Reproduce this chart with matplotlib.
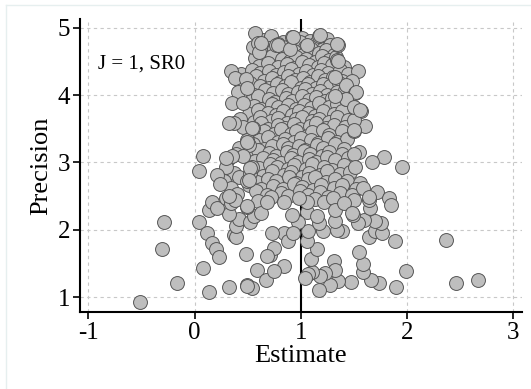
import numpy as np
import matplotlib
matplotlib.use('Agg')
import matplotlib.pyplot as plt
from matplotlib.lines import Line2D

# Outlying / sparse points (estimate, precision)
sparse_est = [-0.51, -0.17, -0.31, -0.29, 0.04, 0.08, 0.14, 0.32, 0.49, 0.54,
              0.48, 0.59, 0.67, 0.12, 0.16, 0.20, 0.23, 0.37, 0.39, 0.39,
              0.42, 0.52, 0.56, 0.32, 0.14, 0.16, 0.21, 0.30, 0.34, 0.38,
              0.49, 0.63, 2.37, 2.46, 2.67, 1.99, 1.90, 1.89, 1.74, 1.66,
              1.59, 1.59, 1.55, 1.47, 1.35, 1.28, 1.17, 1.31, 1.32, 1.23,
              1.18, 1.11, 1.07, 1.04, 1.10, 1.15, 1.06, 1.07, 1.06, 0.97,
              0.92, 0.84, 0.75, 0.71, 0.75, 0.84, 0.88, 0.93, 0.73, 1.64,
              1.70, 1.77, 1.76, 1.70, 1.60, 1.54, 1.49, 1.39, 1.34, 1.32,
              1.21, 1.17, 1.15, 1.32, 1.41, 1.48, 1.65, 1.64, 1.83, 1.85,
              1.06, 0.98, 1.95, 1.78, 1.67, 1.61, 1.54, 1.48, 1.43, 1.51,
              1.51, 1.57, 1.50, 1.50, 1.50, 1.51, 1.35, 1.34, 1.32, 1.17,
              0.92, 0.77, 0.57, 0.55, 0.60, 0.61, 0.34, 0.38, 0.48, 0.49,
              0.35, 0.46, 0.37, 0.55, 0.49, 0.51, 0.08, 0.04, 0.31, 0.30,
              0.39, 0.46, 0.21, 0.24, 0.49, 0.52, 0.54, 0.54, 0.49, 0.35,
              0.52, 0.51, 0.32, 0.49, 0.68, 1.59, 1.64, 1.50, 0.32, 0.30,
              0.68, 0.49, 0.63, 0.79, 0.90, 0.93, 1.06, 1.18, 1.34, 1.35,
              1.43, 1.52, 1.43, 1.50, 1.56, 1.32]
sparse_prec = [0.93, 1.21, 1.72, 2.12, 2.12, 1.43, 1.08, 1.15, 1.18, 1.13,
               1.64, 1.40, 1.26, 1.96, 1.81, 1.71, 1.60, 1.93, 1.90, 2.06,
               2.16, 2.11, 2.20, 2.24, 2.29, 2.41, 2.32, 2.47, 2.40, 2.45,
               2.34, 2.25, 1.85, 1.21, 1.25, 1.39, 1.15, 1.83, 1.21, 1.26,
               1.38, 1.50, 1.67, 1.22, 1.24, 1.18, 1.10, 1.53, 1.40, 1.36,
               1.31, 1.38, 1.34, 1.28, 1.56, 1.72, 1.83, 1.98, 2.27, 2.11,
               2.22, 1.46, 1.39, 1.63, 1.73, 1.96, 1.83, 1.95, 1.95, 1.89,
               1.98, 1.95, 2.10, 2.13, 2.15, 2.10, 2.22, 1.98, 2.00, 2.13,
               1.98, 2.10, 2.20, 2.30, 2.40, 2.25, 2.32, 2.45, 2.47, 2.37,
               2.42, 2.47, 2.93, 3.08, 3.00, 3.54, 4.36, 4.21, 4.15, 4.03,
               3.81, 3.76, 3.63, 3.46, 3.13, 2.94, 4.75, 4.52, 4.27, 4.88,
               4.86, 4.75, 4.92, 4.72, 4.78, 4.64, 4.36, 4.25, 4.24, 4.10,
               3.88, 3.88, 3.58, 3.51, 3.34, 3.26, 3.10, 2.88, 3.05, 2.94,
               3.12, 3.09, 2.81, 2.68, 2.72, 2.84, 2.94, 3.51, 3.31, 3.09,
               2.92, 2.74, 2.50, 2.35, 2.42, 2.62, 2.48, 3.48, 3.58, 3.07,
               1.61, 1.17, 4.78, 4.74, 4.69, 4.87, 4.74, 4.89, 4.76, 4.51,
               3.94, 4.04, 3.94, 3.82, 3.78, 3.98]

# Dense core of the funnel (estimate, precision), read row by row
core_est = [0.64, 0.72, 0.83, 1.01, 1.09, 1.25,
            0.70, 0.79, 0.87, 0.99, 1.04, 1.14, 1.21, 1.28,
            0.66, 0.75, 0.86, 0.94, 1.02, 1.10, 1.17, 1.24, 1.31,
            0.57, 0.67, 0.73, 0.82, 0.90, 0.96, 1.05, 1.13, 1.20, 1.27, 1.33,
            0.61, 0.69, 0.79, 0.87, 0.94, 1.01, 1.08, 1.16, 1.22, 1.29, 1.41,
            0.44, 0.54, 0.62, 0.70, 0.77, 0.84, 0.91, 0.98, 1.05, 1.12, 1.19, 1.26, 1.37, 1.45,
            0.42, 0.58, 0.65, 0.73, 0.80, 0.88, 0.95, 1.02, 1.09, 1.16, 1.23, 1.30, 1.39,
            0.45, 0.52, 0.62, 0.70, 0.78, 0.85, 0.91, 1.00, 1.07, 1.14, 1.21, 1.28, 1.36,
            0.41, 0.56, 0.66, 0.74, 0.82, 0.88, 0.97, 1.04, 1.11, 1.18, 1.25, 1.34, 1.42,
            0.53, 0.60, 0.70, 0.76, 0.86, 0.92, 1.01, 1.08, 1.14, 1.23, 1.29, 1.39,
            0.56, 0.63, 0.73, 0.79, 0.88, 0.96, 1.03, 1.10, 1.17, 1.27, 1.34, 1.45,
            0.51, 0.60, 0.69, 0.77, 0.83, 0.92, 0.98, 1.07, 1.13, 1.21, 1.31, 1.39,
            0.43, 0.56, 0.62, 0.72, 0.79, 0.87, 0.96, 1.01, 1.11, 1.17, 1.27, 1.34, 1.45,
            0.46, 0.63, 0.69, 0.79, 0.85, 0.94, 0.99, 1.09, 1.14, 1.24, 1.31, 1.42,
            0.59, 0.65, 0.75, 0.81, 0.91, 0.96, 1.06, 1.11, 1.21, 1.27, 1.39,
            0.61, 0.69, 0.79, 0.85, 0.94, 1.00, 1.10, 1.16, 1.26, 1.34, 1.44,
            0.42, 0.55, 0.65, 0.73, 0.83, 0.88, 0.98, 1.04, 1.15, 1.21, 1.32, 1.41,
            0.53, 0.60, 0.70, 0.77, 0.87, 0.93, 1.03, 1.09, 1.20, 1.27, 1.39, 1.55,
            0.57, 0.64, 0.74, 0.81, 0.91, 0.97, 1.08, 1.14, 1.25, 1.32, 1.45,
            0.61, 0.71, 0.78, 0.88, 0.94, 1.05, 1.11, 1.22, 1.29, 1.41,
            0.37, 0.64, 0.73, 0.84, 0.91, 1.01, 1.08, 1.18, 1.25, 1.37, 1.46,
            0.28, 0.42, 0.59, 0.69, 0.77, 0.89, 0.96, 1.07, 1.13, 1.24, 1.32, 1.44, 1.56,
            0.34, 0.51, 0.63, 0.74, 0.83, 0.94, 1.01, 1.12, 1.19, 1.31, 1.39, 1.52,
            0.40, 0.58, 0.68, 0.81, 0.88, 0.99, 1.07, 1.18, 1.26, 1.37, 1.48, 1.72,
            0.60, 0.72, 0.84, 1.13, 1.22, 1.30, 1.50]
core_prec = [4.82, 4.88, 4.79, 4.85, 4.80, 4.84,
             4.70, 4.76, 4.72, 4.79, 4.71, 4.77, 4.69, 4.75,
             4.60, 4.68, 4.62, 4.66, 4.59, 4.69, 4.62, 4.67, 4.60,
             4.55, 4.51, 4.58, 4.54, 4.50, 4.57, 4.53, 4.49, 4.58, 4.52, 4.56,
             4.43, 4.48, 4.41, 4.46, 4.40, 4.49, 4.44, 4.41, 4.47, 4.45, 4.42,
             4.31, 4.38, 4.33, 4.36, 4.30, 4.35, 4.39, 4.32, 4.36, 4.30, 4.37, 4.33, 4.38, 4.31,
             4.22, 4.28, 4.21, 4.25, 4.20, 4.29, 4.23, 4.26, 4.20, 4.28, 4.22, 4.27, 4.21,
             4.12, 4.18, 4.14, 4.10, 4.17, 4.13, 4.19, 4.11, 4.16, 4.10, 4.17, 4.13, 4.18,
             4.04, 4.00, 4.07, 4.03, 4.08, 4.01, 4.05, 4.09, 4.02, 4.06, 4.00, 4.05, 4.08,
             3.92, 3.98, 3.94, 3.90, 3.96, 3.91, 3.99, 3.93, 3.97, 3.91, 3.96, 3.93,
             3.84, 3.80, 3.87, 3.82, 3.86, 3.79, 3.85, 3.81, 3.88, 3.83, 3.87, 3.81,
             3.72, 3.78, 3.74, 3.70, 3.76, 3.71, 3.77, 3.73, 3.69, 3.76, 3.72, 3.77,
             3.64, 3.60, 3.67, 3.62, 3.66, 3.59, 3.64, 3.68, 3.61, 3.65, 3.60, 3.67, 3.63,
             3.52, 3.58, 3.50, 3.55, 3.51, 3.57, 3.49, 3.54, 3.58, 3.51, 3.56, 3.53,
             3.41, 3.47, 3.43, 3.49, 3.42, 3.46, 3.40, 3.45, 3.48, 3.41, 3.46,
             3.33, 3.38, 3.31, 3.35, 3.30, 3.37, 3.33, 3.29, 3.36, 3.31, 3.35,
             3.22, 3.27, 3.20, 3.25, 3.28, 3.21, 3.24, 3.19, 3.26, 3.22, 3.27, 3.20,
             3.12, 3.18, 3.14, 3.10, 3.16, 3.11, 3.17, 3.13, 3.09, 3.16, 3.12, 3.15,
             3.02, 3.07, 3.04, 2.99, 3.06, 3.01, 3.05, 3.00, 3.08, 3.03, 3.06,
             2.92, 2.98, 2.94, 2.90, 2.96, 2.91, 2.97, 2.93, 2.89, 2.96,
             2.84, 2.80, 2.87, 2.82, 2.86, 2.79, 2.85, 2.81, 2.88, 2.83, 2.86,
             2.73, 2.78, 2.71, 2.76, 2.72, 2.78, 2.70, 2.75, 2.79, 2.71, 2.76, 2.73, 2.69,
             2.62, 2.67, 2.60, 2.65, 2.61, 2.68, 2.63, 2.59, 2.66, 2.62, 2.67, 2.60,
             2.53, 2.58, 2.51, 2.55, 2.50, 2.57, 2.52, 2.56, 2.49, 2.55, 2.51, 2.56,
             2.43, 2.48, 2.42, 2.46, 2.41, 2.47, 2.44]

x_ticks = [-1, 0, 1, 2, 3]
y_ticks = [1, 2, 3, 4, 5]
true_effect = 1
panel_label = 'J = 1, SR0'

est = np.array(core_est + sparse_est)
prec = np.array(core_prec + sparse_prec)

plt.rcParams['font.family'] = ['Liberation Serif', 'DejaVu Serif']

fig = plt.figure(figsize=(5.31, 3.89), dpi=100)
# faint frame of the original graph region
fig.add_artist(Line2D([6/531, 1], [1 - 5/389, 1 - 5/389], color='#e6efef', lw=1))
fig.add_artist(Line2D([6/531, 6/531], [0, 1 - 5/389], color='#e6efef', lw=1))

ax = fig.add_axes([80/531, 1 - 312/389, 442/531, 293/389])
ax.set_xlim(-1.08, 3.085)
ax.set_ylim(0.78, 5.13)

for t in x_ticks:
    ax.axvline(t, color='#c8c8c8', lw=0.8, ls=(0, (3, 3)), zorder=0)
for t in y_ticks:
    ax.axhline(t, color='#c8c8c8', lw=0.8, ls=(0, (3, 3)), zorder=0)

ax.axvline(true_effect, color='black', lw=1.5, zorder=1)
ax.scatter(est, prec, s=100, facecolor='#bebebe', edgecolor='#555555',
           linewidth=0.7, zorder=2)

ax.set_xticks(x_ticks)
ax.set_yticks(y_ticks)
ax.set_xticklabels(['-1', '0', '1', '2', '3'])
ax.tick_params(labelsize=18, length=5, width=1.2, color='black', pad=2)
ax.spines['top'].set_visible(False)
ax.spines['right'].set_visible(False)
ax.spines['left'].set_linewidth(1.5)
ax.spines['bottom'].set_linewidth(1.5)
ax.set_xlabel('Estimate', fontsize=19, labelpad=1)
ax.set_ylabel('Precision', fontsize=19, labelpad=4)
ax.text(0.04, 0.83, panel_label, transform=ax.transAxes, fontsize=15)

fig.savefig('out.png', dpi=100)
